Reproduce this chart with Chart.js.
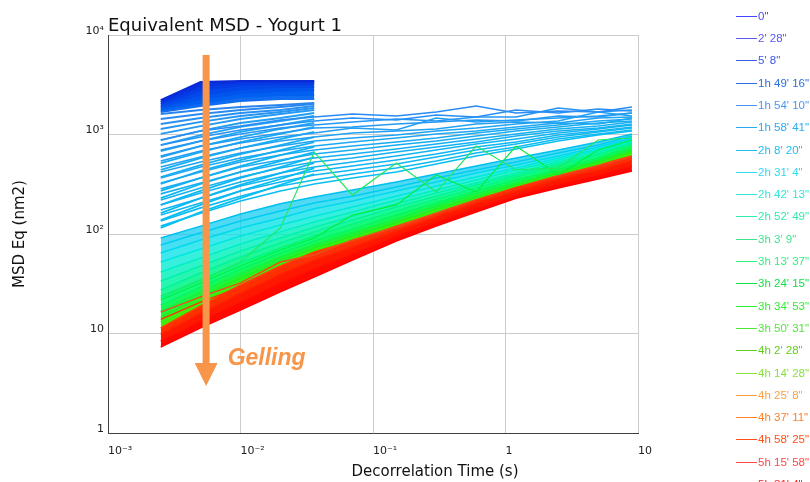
<!DOCTYPE html>
<html><head><meta charset="utf-8">
<script src="https://cdn.jsdelivr.net/npm/chart.js@4.4.1/dist/chart.umd.min.js"></script>
<style>html,body{margin:0;padding:0;background:#fff;}#wrap{width:810px;height:482px;position:relative;}</style>
</head><body><div id="wrap"><canvas id="c" width="810" height="482"></canvas></div>
<script>
// ---- data (MSD in nm², time in s) ----
const tShort = [0.0025, 0.005, 0.01, 0.02, 0.036];
const tFull  = [0.0025, 0.005, 0.01, 0.02, 0.036, 0.07, 0.15, 0.3, 0.6, 1.2, 2.5, 5, 9];

const xTickValues = [0.001, 0.01, 0.1, 1, 10];
const xTickLabels = ['10⁻³', '10⁻²', '10⁻¹', '1', '10'];
const yTickValues = [1, 10, 100, 1000, 10000];
const yTickLabels = ['1', '10', '10²', '10³', '10⁴'];

// earliest curves (dark blue, short range)
const darkBlueShort = [
  [2220, 3370, 3450, 3450, 3450],
  [2120, 3070, 3370, 3370, 3370],
  [2030, 2800, 3140, 3220, 3220],
  [1930, 2500, 2870, 3000, 3000],
  [1850, 2270, 2610, 2740, 2800],
  [1760, 2070, 2380, 2500, 2500],
  [1680, 1930, 2170, 2270, 2270]
];
// light blue, short range
const lightBlueShort = [
  [1607, 1763, 1890, 1979, 2073],
  [1431, 1607, 1763, 1890, 2026],
  [1275, 1465, 1645, 1763, 1934],
  [1136, 1336, 1534, 1683, 1846],
  [1012, 1217, 1431, 1607, 1763],
  [880, 1085, 1305, 1465, 1645],
  [784, 988, 1190, 1367, 1534],
  [682, 860, 1060, 1246, 1431],
  [594, 766, 943, 1136, 1305],
  [517, 666, 840, 1012, 1190],
  [440, 580, 731, 901, 1060],
  [374, 493, 636, 784, 943],
  [318, 430, 554, 698, 840],
  [271, 366, 482, 622, 749],
  [229, 318, 420, 541, 666],
  [196, 271, 366, 471, 594],
  [162, 229, 311, 410, 517],
  [138, 196, 271, 357, 460],
  [115, 166, 229, 311, 401]
];
// light blue, full range
const lightBlueFull = [
  [880, 1085, 1217, 1399, 1499, 1607, 1534, 1683, 1934, 1645, 1723, 1683, 1890],
  [784, 943, 1110, 1246, 1367, 1465, 1399, 1570, 1499, 1763, 1645, 1804, 1723],
  [698, 860, 1012, 1162, 1246, 1336, 1431, 1367, 1499, 1499, 1846, 1683, 1763],
  [608, 766, 901, 1036, 1162, 1190, 1275, 1336, 1399, 1367, 1534, 1499, 1645],
  [541, 682, 821, 943, 1036, 1162, 1110, 1465, 1336, 1399, 1465, 1534, 1645],
  [471, 594, 731, 860, 943, 1036, 1085, 1136, 1275, 1336, 1305, 1465, 1499],
  [420, 529, 651, 766, 860, 922, 988, 1085, 1162, 1275, 1367, 1683, 1534],
  [366, 471, 580, 682, 766, 840, 922, 1012, 1085, 1190, 1305, 1275, 1465],
  [326, 420, 529, 622, 698, 766, 840, 922, 1036, 1136, 1246, 1367, 1431],
  [284, 366, 471, 554, 636, 698, 784, 860, 965, 1085, 1190, 1305, 1367],
  [253, 326, 420, 505, 580, 636, 715, 802, 901, 1012, 1136, 1217, 1336],
  [220, 290, 374, 460, 529, 580, 666, 749, 840, 965, 1085, 1162, 1275],
  [196, 258, 333, 410, 471, 529, 608, 698, 802, 901, 1036, 1136, 1246],
  [174, 229, 304, 374, 430, 482, 554, 636, 749, 840, 988, 1085, 1190],
  [155, 205, 271, 333, 392, 440, 505, 594, 698, 802, 943, 1060, 1162],
  [135, 183, 240, 304, 349, 401, 460, 541, 651, 749, 901, 1012, 1110],
  [120, 162, 215, 271, 318, 366, 420, 505, 608, 715, 860, 988, 1085]
];
// cyan -> green -> red band (top to bottom)
const bandCurves = [
  [91.1, 120, 159, 201, 235, 277, 333, 401, 482, 580, 698, 840, 1012],
  [77.5, 103, 135, 170, 205, 240, 297, 366, 440, 529, 651, 784, 965],
  [64.5, 87.1, 115, 145, 179, 215, 271, 333, 410, 493, 608, 749, 922],
  [52.3, 70.6, 95.5, 123, 151, 187, 240, 304, 374, 460, 580, 715, 901],
  [41.5, 57.4, 79.4, 105, 132, 166, 220, 277, 349, 440, 554, 698, 860],
  [33.7, 47.7, 67.5, 91.1, 117, 151, 201, 258, 326, 410, 529, 666, 840],
  [27.4, 40.6, 58.7, 81.3, 105, 138, 187, 240, 311, 392, 505, 636, 821],
  [22.8, 34.5, 51.1, 72.3, 95.5, 126, 170, 224, 290, 374, 482, 622, 802],
  [19.3, 29.3, 44.5, 64.5, 85.1, 112, 155, 205, 271, 349, 449, 580, 766],
  [16.8, 26.2, 39.7, 58.7, 77.5, 103, 141, 192, 253, 326, 430, 554, 715],
  [14.6, 23.3, 36.1, 53.5, 72.3, 95.5, 132, 179, 235, 311, 410, 529, 682],
  [13.1, 21.2, 33.7, 51.1, 69.1, 91.1, 126, 170, 229, 304, 401, 505, 651],
  [11.4, 18.9, 30.7, 47.7, 66.0, 85.1, 120, 162, 224, 297, 392, 493, 608],
  [9.85, 16.0, 25.6, 39.7, 54.8, 74.0, 107, 148, 205, 271, 357, 440, 541],
  [8.40, 13.4, 20.7, 32.2, 44.5, 63.0, 95.5, 132, 183, 246, 318, 392, 482],
  [7.31, 11.4, 17.2, 26.2, 37.0, 54.8, 85.1, 120, 166, 229, 290, 357, 430]
];
// noisy green curves
const spikyGreen = [
  [23.8, 34.5, 52.3, 115, 666, 246, 517, 264, 766, 440, 460, 880, 922],
  [21.7, 32.2, 47.7, 69.1, 91.1, 155, 196, 392, 264, 766, 392, 698, 880]
];
// kinked orange/red curves
const kinkedRed = [
  [13.9, 20.7, 29.3, 45.5, 57.4, 79.4, 112, 155, 215, 290, 374, 471, 580],
  [16.4, 23.3, 32.2, 52.3, 61.5, 87.1, 117, 162, 220, 290, 383, 482, 594]
];

const legendLabels = ['0"', "2' 28\"", "5' 8\"", "1h 49' 16\"", "1h 54' 10\"", "1h 58' 41\"", "2h 8' 20\"", "2h 31' 4\"", "2h 42' 13\"", "2h 52' 49\"", "3h 3' 9\"", "3h 13' 37\"", "3h 24' 15\"", "3h 34' 53\"", "3h 50' 31\"", "4h 2' 28\"", "4h 14' 28\"", "4h 25' 8\"", "4h 37' 11\"", "4h 58' 25\"", "5h 15' 58\"", "5h 31' 4\""];
const legendColors = ['#4646ff', '#5a5aee', '#3a5ae8', '#2a6ee0', '#4a96f0', '#28aaf0', '#20bef0', '#30d8f0', '#30e8d8', '#30eab0', '#40e490', '#30f080', '#10e040', '#30ee30', '#50e838', '#60d020', '#88e040', '#ffa040', '#ff8028', '#ff5018', '#ff4848', '#ff2020'];

// ---- styles ----
const darkColors = ['#0a2ad6', '#0832de', '#063ce6', '#0448ea', '#0254ee', '#0060f0', '#106cf0'];
const lightShortColors = ['#2a84f0', '#2a8af0', '#2890f2', '#2694f2', '#249af2', '#229ef2', '#20a2f2', '#1ea6f2', '#1ca8f2', '#1aacf2', '#18aef2', '#16b0f2', '#14b2f2', '#12b4f2', '#10b6f2', '#0eb8f2', '#0cbaf2', '#0abdf2', '#08c0f2'];
const lightFullColors = ['#2a8cf4', '#2890f4', '#2696f4', '#249af4', '#229ef4', '#20a2f2', '#1ea4f2', '#1ca8f2', '#1aaaf2', '#18adf2', '#16b0f2', '#14b2f2', '#12b4f2', '#10b6f2', '#0eb8f2', '#0cbbf2', '#0abef2'];
const bandLineColors = ['#00c0f0', '#00ccf0', '#00d8ee', '#00e6e0', '#00eec8', '#00f2b0', '#00f498', '#00f880', '#00f860', '#10f440', '#20f020', '#38f010', '#ff4000', '#ff2400', '#ff1000', '#ff0000'];
const bandFillColors = [null, '#00c8f0b0', '#00d4efb8', '#00e0e6c0', '#00ead4c8', '#00f0bcd0', '#00f4a4d8', '#00f68ce0', '#00f870e8', '#08f650f0', '#18f230f4', '#2cf018f8', '#40ee08', '#ff3000', '#ff1800', '#ff0800'];

const pts = (xs, ys) => xs.map((t, i) => ({ x: t, y: ys[i] }));
const datasets = [];
darkBlueShort.forEach((s, i) => datasets.push({ data: pts(tShort, s), borderColor: darkColors[i], backgroundColor: darkColors[i], borderWidth: 2, fill: i === 0 ? false : '-1', order: 60 }));
lightBlueShort.forEach((s, i) => datasets.push({ data: pts(tShort, s), borderColor: lightShortColors[i], borderWidth: 1.8, fill: false, order: 50 }));
lightBlueFull.forEach((s, i) => datasets.push({ data: pts(tFull, s), borderColor: lightFullColors[i], borderWidth: 1.6, fill: false, order: 40 }));
bandCurves.forEach((s, i) => datasets.push({ data: pts(tFull, s), borderColor: bandLineColors[i], backgroundColor: bandFillColors[i] || 'transparent', borderWidth: 1.5, fill: i === 0 ? false : '-1', order: 30 }));
spikyGreen.forEach((s, i) => datasets.push({ data: pts(tFull, s), borderColor: i === 0 ? '#20e860' : '#00f040', borderWidth: 1.2, fill: false, order: 20 }));
kinkedRed.forEach((s, i) => datasets.push({ data: pts(tFull, s), borderColor: i === 0 ? '#ff3010' : '#e85020', borderWidth: 1.4, fill: false, order: 10 }));

const arrowAt = { x: 0.0055, top: 6300, headStart: 5.05, tip: 2.97 };
const gellingAt = { x: 0.008, y: 4.83 };
const orange = '#f7964a';

const overlay = {
  id: 'overlay',
  afterDatasetsDraw(chart) {
    const ctx = chart.ctx, xs = chart.scales.x, ys = chart.scales.y;
    const ax = xs.getPixelForValue(arrowAt.x);
    const top = ys.getPixelForValue(arrowAt.top);
    const hs = ys.getPixelForValue(arrowAt.headStart);
    const tip = ys.getPixelForValue(arrowAt.tip);
    ctx.save();
    ctx.fillStyle = orange;
    ctx.fillRect(ax - 3.5, top, 7, hs - top);
    ctx.beginPath(); ctx.moveTo(ax - 11.5, hs); ctx.lineTo(ax + 11.5, hs); ctx.lineTo(ax, tip); ctx.closePath(); ctx.fill();
    ctx.font = 'italic bold 23px "Liberation Sans", Arial, sans-serif';
    ctx.textBaseline = 'alphabetic'; ctx.textAlign = 'left';
    ctx.fillText('Gelling', xs.getPixelForValue(gellingAt.x), ys.getPixelForValue(gellingAt.y));
    ctx.restore();
  },
  afterDraw(chart) {
    const ctx = chart.ctx, a = chart.chartArea;
    ctx.save();
    ctx.fillStyle = '#111';
    ctx.font = '18px "DejaVu Sans", sans-serif';
    ctx.textAlign = 'left'; ctx.textBaseline = 'alphabetic';
    ctx.fillText('Equivalent MSD - Yogurt 1', a.left, 31);
    ctx.font = '15px "DejaVu Sans", sans-serif';
    ctx.textAlign = 'center'; ctx.textBaseline = 'middle';
    ctx.fillText('Decorrelation Time (s)', 435, 472);
    ctx.save(); ctx.translate(20, 234); ctx.rotate(-Math.PI / 2);
    ctx.fillText('MSD Eq (nm2)', 0, 0); ctx.restore();
    // legend
    ctx.font = '11.5px "Liberation Sans", Arial, sans-serif';
    ctx.textAlign = 'left'; ctx.textBaseline = 'middle';
    legendLabels.forEach((lab, i) => {
      const y = Math.round(15.7 + 22.3 * i) + 0.5;
      ctx.strokeStyle = legendColors[i]; ctx.lineWidth = 1;
      ctx.beginPath(); ctx.moveTo(736, y); ctx.lineTo(757, y); ctx.stroke();
      ctx.fillStyle = legendColors[i];
      ctx.fillText(lab, 758, y);
    });
    ctx.restore();
  }
};

Chart.defaults.font.family = '"DejaVu Sans", sans-serif';
new Chart(document.getElementById('c'), {
  type: 'line',
  data: { datasets },
  options: {
    responsive: false, animation: false, devicePixelRatio: 1,
    layout: { padding: { left: 0, right: 172, top: 35, bottom: 0 } },
    elements: { point: { radius: 0 }, line: { tension: 0 } },
    plugins: { legend: { display: false }, tooltip: { enabled: false }, title: { display: false } },
    scales: {
      x: {
        type: 'logarithmic', min: 0.001, max: 10,
        afterBuildTicks: s => { s.ticks = xTickValues.map(v => ({ value: v })); },
        afterFit: s => { s.height = 49; },
        ticks: { callback: (v, i) => xTickLabels[i], align: 'start', padding: 12, autoSkip: false, maxRotation: 0, color: '#222', font: { size: 11 } },
        grid: { color: '#cccccc', drawTicks: false },
        border: { color: '#404040' }
      },
      y: {
        type: 'logarithmic', min: 1, max: 10000,
        afterBuildTicks: s => { s.ticks = yTickValues.map(v => ({ value: v })); },
        afterFit: s => { s.width = 108; },
        ticks: { callback: (v, i) => yTickLabels[i], padding: 4, labelOffset: -4, autoSkip: false, color: '#222', font: { size: 11 } },
        grid: { color: '#cccccc', drawTicks: false },
        border: { color: '#404040' }
      }
    }
  },
  plugins: [overlay]
});
</script></body></html>
